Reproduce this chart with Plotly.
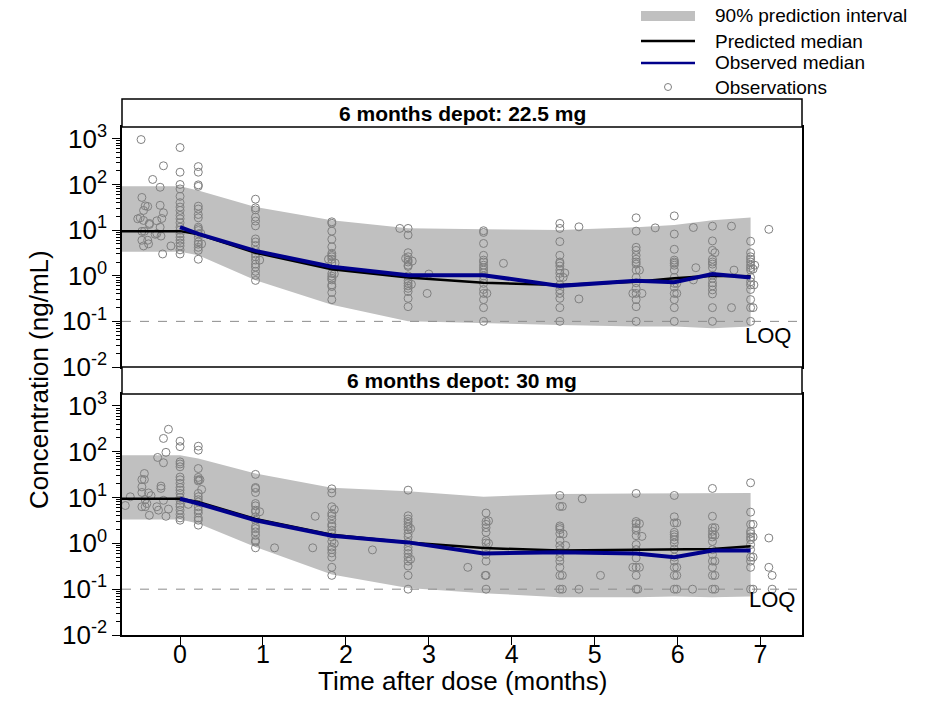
import numpy as np
import plotly.graph_objects as go

# ---------------- data ----------------
LOQ = 0.1
panel_titles = ["6 months depot: 22.5 mg", "6 months depot: 30 mg"]
legend_labels = ["90% prediction interval", "Predicted median", "Observed median", "Observations"]
x_ticks = [0, 1, 2, 3, 4, 5, 6, 7]
y_tick_vals = [0.01, 0.1, 1, 10, 100, 1000]
y_tick_text = ["10<sup>-2</sup>", "10<sup>-1</sup>", "10<sup>0</sup>",
               "10<sup>1</sup>", "10<sup>2</sup>", "10<sup>3</sup>"]

pi_time = [-0.7, 0, 0.22, 0.91, 1.83, 2.75, 3.66, 4.58, 5.50, 5.96, 6.42, 6.88]
pi_upper_225 = [92, 92, 74, 32, 16.5, 11, 10.4, 10, 11.5, 12.9, 16.5, 19]
pi_lower_225 = [3.35, 3.35, 2.8, 0.8, 0.23, 0.10, 0.091, 0.083, 0.077, 0.077, 0.071, 0.077]
pi_upper_30 = [84, 84, 71, 33.5, 16.3, 13.7, 10.4, 12, 12.3, 12.3, 12.6, 12.6]
pi_lower_30 = [3.3, 3.3, 2.7, 0.83, 0.21, 0.106, 0.082, 0.067, 0.067, 0.069, 0.067, 0.069]

pred_time = [-0.7, 0, 0.22, 0.91, 1.83, 2.75, 3.66, 4.58, 5.50, 5.96, 6.42, 6.88]
pred_med_225 = [9.5, 9.5, 8.1, 3.2, 1.38, 0.92, 0.70, 0.63, 0.74, 0.88, 1.0, 0.97]
pred_med_30 = [9.4, 9.4, 8.0, 3.4, 1.55, 1.05, 0.79, 0.70, 0.73, 0.73, 0.75, 0.86]

obs_med_time = [0, 0.22, 0.91, 1.83, 2.75, 3.66, 4.58, 5.50, 5.96, 6.42, 6.88]
obs_med_225 = [11.6, 8.3, 3.5, 1.57, 1.03, 1.03, 0.60, 0.78, 0.72, 1.09, 0.92]
obs_med_30 = [9.4, 7.4, 3.2, 1.47, 1.05, 0.60, 0.64, 0.60, 0.50, 0.70, 0.70]

obs_225 = [
    # pre-dose
    (-0.47, 966), (-0.20, 257), (-0.33, 129), (-0.24, 87), (-0.46, 52), (-0.42, 34),
    (-0.39, 33), (-0.44, 27), (-0.24, 35), (-0.20, 24), (-0.48, 18.6), (-0.44, 16.3),
    (-0.28, 16), (-0.22, 18), (-0.37, 13.3), (-0.24, 11.6), (-0.46, 9.4), (-0.43, 9.4),
    (-0.30, 8.1), (-0.28, 8.4), (-0.23, 7.4), (-0.46, 6.0), (-0.39, 6.0), (-0.38, 5.0),
    (-0.44, 4.5), (-0.11, 4.5), (-0.21, 3.0), (-0.51, 17.7), (-0.37, 14),
    # t = 0
    (0, 645), (0, 186), (0, 100), (0, 80), (0, 55), (0, 40), (0, 32), (0, 27), (0, 21),
    (0, 17.7), (0, 14.5), (0, 11.6), (0, 10), (0, 8.3), (0, 7.0), (0, 6.0), (0, 5.2),
    (0, 4.5), (0, 3.7), (0, 3.0),
    # t = 0.22
    (0.22, 247), (0.22, 186), (0.22, 98), (0.22, 91), (0.22, 33.5), (0.22, 29), (0.22, 22),
    (0.22, 18.6), (0.22, 11.6), (0.22, 10.7), (0.22, 9.8), (0.22, 8.3), (0.22, 7.0),
    (0.22, 5.5), (0.22, 4.9), (0.22, 4.2), (0.22, 3.6), (0.22, 2.3), (0.25, 8.5), (0.26, 5.0),
    # t = 0.91
    (0.91, 47.6), (0.91, 30.8), (0.91, 27.8), (0.91, 19.2), (0.91, 15.8), (0.91, 12.4),
    (0.91, 6.4), (0.91, 5.5), (0.91, 4.6), (0.91, 3.6), (0.91, 3.0), (0.91, 2.6),
    (0.91, 2.2), (0.91, 1.8), (0.91, 1.55), (0.91, 1.25), (0.91, 1.02), (0.91, 0.79),
    (0.96, 2.2),
    # t = 1.83
    (1.83, 15.2), (1.83, 14.1), (1.83, 9.5), (1.83, 6.3), (1.83, 4.3), (1.83, 3.1),
    (1.83, 2.8), (1.83, 2.6), (1.83, 2.3), (1.83, 1.9), (1.83, 1.12), (1.83, 0.98),
    (1.83, 0.88), (1.83, 0.81), (1.83, 0.63), (1.83, 0.58), (1.83, 0.43), (1.83, 0.30),
    (1.79, 2.3), (1.87, 1.9), (1.86, 1.1),
    # t = 2.75
    (2.75, 10.9), (2.75, 7.8), (2.75, 3.2), (2.75, 2.6), (2.75, 2.2), (2.75, 2.0),
    (2.75, 1.7), (2.75, 1.6), (2.75, 0.99), (2.75, 0.78), (2.75, 0.68), (2.75, 0.60),
    (2.75, 0.53), (2.75, 0.45), (2.75, 0.32), (2.75, 0.21), (2.65, 10.9), (2.80, 2.1),
    (2.72, 2.4), (3.00, 1.09), (2.98, 0.41), (2.79, 0.65),
    # t = 3.66
    (3.66, 9.7), (3.66, 8.9), (3.66, 5.1), (3.66, 2.8), (3.66, 2.2), (3.66, 2.0),
    (3.66, 1.7), (3.66, 1.5), (3.66, 1.33), (3.66, 1.16), (3.66, 0.99), (3.66, 0.81),
    (3.66, 0.68), (3.66, 0.50), (3.66, 0.41), (3.66, 0.30), (3.66, 0.20), (3.66, 0.10),
    (3.90, 1.87), (3.70, 0.41),
    # t = 4.58
    (4.58, 14.0), (4.58, 10.9), (4.58, 5.6), (4.58, 2.8), (4.58, 2.0), (4.58, 1.87),
    (4.58, 1.63), (4.58, 1.33), (4.58, 1.13), (4.58, 0.92), (4.58, 0.63), (4.58, 0.49),
    (4.58, 0.41), (4.58, 0.32), (4.58, 0.20), (4.58, 0.10), (4.81, 11.8), (4.81, 0.31),
    (4.64, 1.15), (4.62, 0.92),
    # t = 5.50
    (5.50, 18.6), (5.50, 9.5), (5.50, 4.2), (5.50, 3.6), (5.50, 2.8), (5.50, 2.3),
    (5.50, 2.0), (5.50, 1.8), (5.50, 1.33), (5.50, 0.92), (5.50, 0.70), (5.50, 0.53),
    (5.50, 0.41), (5.50, 0.30), (5.50, 0.21), (5.50, 0.10), (5.73, 11.2), (5.54, 1.33),
    (5.46, 0.41), (5.57, 0.41),
    # t = 5.96
    (5.96, 20.5), (5.96, 8.2), (5.96, 3.8), (5.96, 2.2), (5.96, 2.0), (5.96, 1.87),
    (5.96, 1.7), (5.96, 1.33), (5.96, 0.92), (5.96, 0.68), (5.96, 0.56), (5.96, 0.41),
    (5.96, 0.30), (5.96, 0.20), (5.96, 0.10), (6.22, 1.5), (6.19, 0.81), (6.19, 11.4),
    (5.99, 0.41), (5.99, 0.68),
    # t = 6.42
    (6.42, 12.2), (6.42, 5.8), (6.42, 3.6), (6.42, 2.3), (6.42, 2.0), (6.42, 1.8),
    (6.42, 1.5), (6.42, 1.03), (6.42, 0.88), (6.42, 0.70), (6.42, 0.60), (6.42, 0.49),
    (6.42, 0.40), (6.42, 0.20), (6.42, 0.10), (6.45, 3.2), (6.65, 12.2), (6.65, 0.20),
    (6.68, 1.33),
    # t = 6.88
    (6.88, 5.7), (6.88, 3.2), (6.88, 2.6), (6.88, 2.3), (6.88, 2.0), (6.88, 1.7),
    (6.88, 1.5), (6.88, 1.33), (6.88, 0.92), (6.88, 0.74), (6.88, 0.63), (6.88, 0.50),
    (6.88, 0.30), (6.88, 0.20), (6.88, 0.10), (6.91, 1.4), (6.92, 0.63), (6.91, 0.20),
    (7.10, 10.4), (6.93, 1.7),
]

obs_30 = [
    # pre-dose
    (-0.14, 309), (-0.20, 195), (-0.17, 97), (-0.27, 75), (-0.20, 57.5), (-0.43, 33.5),
    (-0.46, 24.7), (-0.43, 24.7), (-0.46, 17.1), (-0.23, 17.8), (-0.23, 15.8), (-0.46, 12.9),
    (-0.38, 12.6), (-0.35, 11), (-0.60, 10.4), (-0.42, 9.0), (-0.20, 8.7), (-0.40, 7.4),
    (-0.66, 6.7), (-0.46, 6.3), (-0.42, 6.3), (-0.28, 6.3), (-0.26, 5.3), (-0.14, 5.6),
    (-0.37, 4.1), (-0.17, 3.9),
    # t = 0
    (0, 170), (0, 129), (0, 60), (0, 54), (0, 47), (0, 28), (0, 24.5), (0, 20.4), (0, 16.6),
    (0, 14.5), (0, 12.3), (0, 10), (0, 8.7), (0, 7.1), (0, 6.3), (0, 5.3), (0, 4.3),
    (0, 3.6), (0, 3.2), (0.10, 7.1),
    # t = 0.22
    (0.22, 132), (0.22, 108), (0.22, 43), (0.22, 27.5), (0.22, 24.5), (0.22, 23),
    (0.22, 12.3), (0.22, 10.4), (0.22, 9.0), (0.22, 8.0), (0.22, 6.3), (0.22, 5.3),
    (0.22, 4.6), (0.22, 3.6), (0.22, 3.2), (0.22, 2.5), (0.26, 15), (0.24, 24.5),
    # t = 0.91
    (0.91, 32), (0.91, 16.6), (0.91, 15.8), (0.91, 12.9), (0.91, 7.4), (0.91, 6.6),
    (0.91, 5.3), (0.91, 4.9), (0.91, 3.8), (0.91, 3.2), (0.91, 2.35), (0.91, 2.1),
    (0.91, 1.78), (0.91, 1.5), (0.91, 1.16), (0.91, 1.07), (0.91, 0.80), (0.96, 4.9),
    (1.14, 0.80), (1.63, 3.9), (1.60, 0.80),
    # t = 1.83
    (1.83, 15.5), (1.83, 12.6), (1.83, 6.3), (1.83, 4.5), (1.83, 4.0), (1.83, 3.3),
    (1.83, 2.6), (1.83, 2.35), (1.83, 1.93), (1.83, 1.63), (1.83, 1.38), (1.83, 1.1),
    (1.83, 0.83), (1.83, 0.73), (1.83, 0.62), (1.83, 0.50), (1.83, 0.30), (1.83, 0.20),
    (1.86, 5.5), (1.86, 1.0), (2.32, 0.72),
    # t = 2.75
    (2.75, 14.5), (2.75, 4.0), (2.75, 3.4), (2.75, 3.0), (2.75, 2.6), (2.75, 2.3),
    (2.75, 2.0), (2.75, 1.63), (2.75, 1.38), (2.75, 1.05), (2.75, 0.83), (2.75, 0.70),
    (2.75, 0.60), (2.75, 0.50), (2.75, 0.41), (2.75, 0.32), (2.75, 0.20), (2.75, 0.10),
    (2.78, 2.1), (2.78, 0.45), (3.47, 0.30),
    # t = 3.69
    (3.69, 4.6), (3.69, 3.0), (3.69, 2.6), (3.69, 2.2), (3.69, 1.74), (3.69, 1.16),
    (3.69, 1.02), (3.69, 0.73), (3.69, 0.57), (3.69, 0.41), (3.69, 0.20), (3.69, 0.10),
    (3.72, 3.1), (3.72, 1.0), (3.68, 0.2),
    # t = 4.58
    (4.58, 11.1), (4.58, 6.4), (4.58, 2.4), (4.58, 2.2), (4.58, 2.0), (4.58, 1.63),
    (4.58, 1.16), (4.58, 0.89), (4.58, 0.73), (4.58, 0.63), (4.58, 0.50), (4.58, 0.41),
    (4.58, 0.30), (4.58, 0.20), (4.58, 0.10), (4.61, 6.4), (4.62, 1.6), (4.65, 0.9),
    (4.61, 0.20), (4.61, 0.10), (4.85, 9.4), (5.07, 0.20), (4.81, 0.10),
    # t = 5.50
    (5.50, 12.3), (5.50, 3.0), (5.50, 2.7), (5.50, 2.2), (5.50, 1.93), (5.50, 1.47),
    (5.50, 0.94), (5.50, 0.73), (5.50, 0.48), (5.50, 0.30), (5.50, 0.20), (5.50, 0.10),
    (5.54, 2.7), (5.57, 1.42), (5.46, 0.30), (5.54, 0.30), (5.52, 0.10),
    # t = 5.96
    (5.96, 11.1), (5.96, 3.8), (5.96, 2.8), (5.96, 1.74), (5.96, 1.55), (5.96, 1.38),
    (5.96, 1.2), (5.96, 1.02), (5.96, 0.75), (5.96, 0.50), (5.96, 0.41), (5.96, 0.30),
    (5.96, 0.20), (5.96, 0.10), (5.99, 2.8), (5.99, 0.30), (5.99, 0.20), (6.18, 0.10),
    (5.99, 0.10),
    # t = 6.42
    (6.42, 15.8), (6.42, 3.9), (6.42, 2.2), (6.42, 1.83), (6.42, 1.55), (6.42, 1.38),
    (6.42, 1.1), (6.42, 0.73), (6.42, 0.57), (6.42, 0.41), (6.42, 0.30), (6.42, 0.20),
    (6.42, 0.10), (6.45, 2.2), (6.45, 1.5), (6.45, 0.41), (6.45, 0.20), (6.45, 0.10),
    # t = 6.88
    (6.88, 21), (6.88, 4.8), (6.88, 2.6), (6.88, 1.83), (6.88, 1.63), (6.88, 1.38),
    (6.88, 1.2), (6.88, 0.94), (6.88, 0.73), (6.88, 0.50), (6.88, 0.41), (6.88, 0.30),
    (6.88, 0.10), (6.91, 2.6), (6.91, 1.38), (6.91, 0.50), (6.91, 0.10),
    (7.10, 1.31), (7.10, 0.30), (7.14, 0.20), (7.14, 0.10),
]

# ---------------- figure ----------------
FONT = "Liberation Sans, Arial, sans-serif"
BAND = "#c0c0c0"
NAVY = "#00008b"
GREY = "#808080"
X_RANGE = [-0.7, 7.5]
Y_RANGE = [-2, 3.26]

L, R, T, B = 122, 130, 99, 88
W, H = 932, 723
PH = H - T - B
PW = W - L - R


def py(pix):
    return (H - B - pix) / PH


def px(pix):
    return (pix - L) / PW


fig = go.Figure()

panels = [
    dict(xa="x", ya="y", upper=pi_upper_225, lower=pi_lower_225,
         pred=pred_med_225, obsmed=obs_med_225, obs=obs_225),
    dict(xa="x2", ya="y2", upper=pi_upper_30, lower=pi_lower_30,
         pred=pred_med_30, obsmed=obs_med_30, obs=obs_30),
]

for p in panels:
    fig.add_trace(go.Scatter(
        x=pi_time + pi_time[::-1], y=p["upper"] + p["lower"][::-1],
        fill="toself", fillcolor=BAND, line=dict(width=0, color=BAND),
        mode="lines", name=legend_labels[0], showlegend=False,
        xaxis=p["xa"], yaxis=p["ya"], hoverinfo="skip"))
    fig.add_trace(go.Scatter(
        x=X_RANGE, y=[LOQ, LOQ], mode="lines",
        line=dict(color="#8c8c8c", width=1, dash="dash"),
        showlegend=False, xaxis=p["xa"], yaxis=p["ya"], hoverinfo="skip"))
    fig.add_trace(go.Scatter(
        x=[o[0] for o in p["obs"]], y=[o[1] for o in p["obs"]], mode="markers",
        marker=dict(symbol="circle-open", size=8, color=GREY,
                    line=dict(width=1, color=GREY)),
        name=legend_labels[3], showlegend=False, xaxis=p["xa"], yaxis=p["ya"]))
    fig.add_trace(go.Scatter(
        x=pred_time, y=p["pred"], mode="lines", line=dict(color="black", width=2.5),
        name=legend_labels[1], showlegend=False, xaxis=p["xa"], yaxis=p["ya"]))
    fig.add_trace(go.Scatter(
        x=obs_med_time, y=p["obsmed"], mode="lines", line=dict(color=NAVY, width=4),
        name=legend_labels[2], showlegend=False, xaxis=p["xa"], yaxis=p["ya"]))

top_dom = [py(367), py(127)]
bot_dom = [py(635), py(394)]

minor_vals = [k * 10.0 ** e for e in range(-2, 4) for k in range(2, 10)]

yaxis_common = dict(
    type="log", range=Y_RANGE, tickmode="array", tickvals=y_tick_vals, ticktext=y_tick_text,
    ticks="outside", ticklen=8, tickwidth=1.2, tickcolor="black",
    showline=True, linecolor="black", linewidth=1.5, mirror=True,
    showgrid=False, zeroline=False,
    tickfont=dict(size=26, color="black", family=FONT),
    minor=dict(tickmode="array", tickvals=minor_vals, ticks="outside", ticklen=4,
               tickwidth=1, tickcolor="black", showgrid=False),
)
xaxis_common = dict(
    range=X_RANGE, showline=True, linecolor="black", linewidth=1.5, mirror=True,
    showgrid=False, zeroline=False,
)

fig.update_layout(
    width=W, height=H,
    margin=dict(l=L, r=R, t=T, b=B, autoexpand=False),
    plot_bgcolor="white", paper_bgcolor="white",
    font=dict(family=FONT, color="black"),
    xaxis=dict(**xaxis_common, anchor="y", showticklabels=False, ticks=""),
    yaxis=dict(**yaxis_common, domain=top_dom, anchor="x"),
    xaxis2=dict(**xaxis_common, anchor="y2", matches="x", tickmode="array",
                tickvals=x_ticks, ticks="outside", ticklen=8, tickwidth=1.2,
                tickcolor="black", ticklabelstandoff=-12,
                tickfont=dict(size=25, color="black", family=FONT)),
    yaxis2=dict(**yaxis_common, domain=bot_dom, anchor="x2"),
    showlegend=False,
)

# strips
for dom_lo, dom_hi, title in [(top_dom[1], 1.0, panel_titles[0]),
                              (bot_dom[1], top_dom[0], panel_titles[1])]:
    fig.add_shape(type="rect", xref="paper", yref="paper", x0=0, x1=1,
                  y0=dom_lo, y1=dom_hi, line=dict(color="black", width=1.5),
                  fillcolor="white", layer="above")
    fig.add_annotation(xref="paper", yref="paper", x=0.5, y=(dom_lo + dom_hi) / 2,
                       text="<b>%s</b>" % title, showarrow=False,
                       font=dict(size=21, color="black", family=FONT),
                       xanchor="center", yanchor="middle")

# LOQ labels
fig.add_annotation(xref="x", yref="y", x=7.39, y=np.log10(LOQ) - 0.32, text="LOQ",
                   showarrow=False, xanchor="right", yanchor="middle",
                   font=dict(size=22, color="black", family=FONT))
fig.add_annotation(xref="x2", yref="y2", x=7.44, y=np.log10(LOQ) - 0.23, text="LOQ",
                   showarrow=False, xanchor="right", yanchor="middle",
                   font=dict(size=22, color="black", family=FONT))

# axis titles
fig.add_annotation(xref="paper", yref="paper", x=px(39), y=py(380),
                   text="Concentration (ng/mL)", textangle=-90, showarrow=False,
                   xanchor="center", yanchor="middle",
                   font=dict(size=26, color="black", family=FONT))
fig.add_annotation(xref="paper", yref="paper", x=0.5, y=py(681),
                   text="Time after dose (months)", showarrow=False,
                   xanchor="center", yanchor="middle",
                   font=dict(size=26, color="black", family=FONT))

# legend (drawn in paper space, top-right)
leg_sym_x0, leg_sym_x1, leg_text_x = 641, 695, 713
leg_rows = [16, 41, 63, 87]
fig.add_shape(type="rect", xref="paper", yref="paper",
              x0=px(leg_sym_x0), x1=px(leg_sym_x1),
              y0=py(leg_rows[0] + 5), y1=py(leg_rows[0] - 5),
              fillcolor=BAND, line=dict(width=0))
fig.add_shape(type="line", xref="paper", yref="paper",
              x0=px(leg_sym_x0), x1=px(leg_sym_x1), y0=py(leg_rows[1]), y1=py(leg_rows[1]),
              line=dict(color="black", width=2.5))
fig.add_shape(type="line", xref="paper", yref="paper",
              x0=px(leg_sym_x0), x1=px(leg_sym_x1), y0=py(leg_rows[2]), y1=py(leg_rows[2]),
              line=dict(color=NAVY, width=2.5))
cx = (leg_sym_x0 + leg_sym_x1) / 2
fig.add_shape(type="circle", xref="paper", yref="paper",
              x0=px(cx - 3.5), x1=px(cx + 3.5),
              y0=py(leg_rows[3] + 3.5), y1=py(leg_rows[3] - 3.5),
              line=dict(color=GREY, width=1), fillcolor="rgba(0,0,0,0)")
for lbl, row in zip(legend_labels, leg_rows):
    fig.add_annotation(xref="paper", yref="paper", x=px(leg_text_x), y=py(row),
                       text=lbl, showarrow=False, xanchor="left", yanchor="middle",
                       font=dict(size=19, color="black", family=FONT))

fig.write_html("out.html")
